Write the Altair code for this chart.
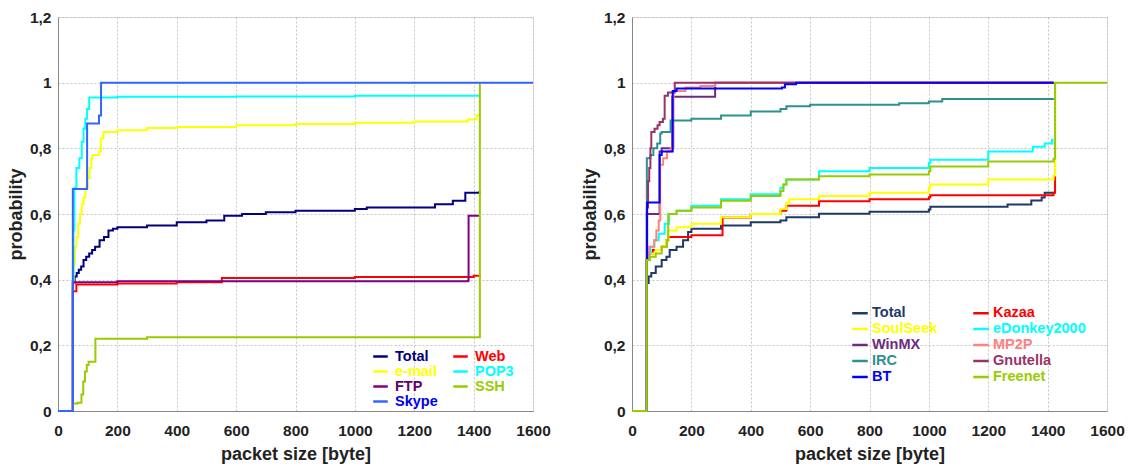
import altair as alt
import pandas as pd

# ---------------- Left panel: application protocols ----------------
L_NAMES = ["Total", "Web", "e-mail", "POP3", "FTP", "SSH", "Skype"]
L_COLORS = ["#000080", "#FF0000", "#FFFF00", "#00FFFF", "#800080", "#99CC00", "#3366FF"]
L_LABEL_COLORS = ["#000080", "#FF0000", "#FFFF00", "#00FFFF", "#660066", "#99CC00", "#0000EE"]

L_TOTAL_X = [0, 50, 56, 63, 70, 78, 86, 95, 105, 115, 125, 140, 155, 170, 185, 200, 300, 400, 500, 560, 620, 700, 800, 1000, 1040, 1270, 1330, 1372, 1420]
L_TOTAL_Y = [0, 0.39, 0.41, 0.42, 0.43, 0.44, 0.46, 0.47, 0.48, 0.49, 0.5, 0.52, 0.53, 0.55, 0.555, 0.56, 0.565, 0.575, 0.58, 0.595, 0.6, 0.605, 0.61, 0.615, 0.62, 0.63, 0.64, 0.665, 0.67]

L_WEB_X = [0, 50, 62, 200, 400, 552, 1000, 1400, 1420]
L_WEB_Y = [0, 0.365, 0.385, 0.388, 0.392, 0.405, 0.408, 0.412, 0.415]

L_EMAIL_X = [0, 50, 53, 57, 62, 68, 74, 80, 86, 92, 100, 106, 112, 116, 139, 144, 153, 200, 300, 400, 600, 800, 1000, 1200, 1380, 1410, 1420]
L_EMAIL_Y = [0, 0.39, 0.45, 0.5, 0.53, 0.57, 0.6, 0.63, 0.65, 0.68, 0.71, 0.74, 0.77, 0.78, 0.79, 0.83, 0.85, 0.855, 0.862, 0.865, 0.87, 0.874, 0.878, 0.882, 0.888, 0.9, 0.9]

L_POP3_X = [0, 50, 52, 55, 62, 72, 80, 86, 92, 98, 105, 200, 600, 1000, 1420]
L_POP3_Y = [0, 0.4, 0.55, 0.68, 0.74, 0.77, 0.82, 0.86, 0.89, 0.92, 0.955, 0.957, 0.958, 0.96, 0.96]

L_FTP_X = [0, 50, 200, 1380, 1383, 1420]
L_FTP_Y = [0, 0.392, 0.395, 0.397, 0.595, 0.595]

L_SSH_X = [0, 50, 66, 79, 85, 91, 97, 103, 126, 300, 1420, 1421]
L_SSH_Y = [0, 0.023, 0.025, 0.05, 0.09, 0.12, 0.14, 0.15, 0.22, 0.225, 0.225, 1.0]

L_SKYPE_X = [0, 50, 98, 138, 145, 1600]
L_SKYPE_Y = [0, 0.676, 0.876, 0.9, 1.0, 1.0]

# ---------------- Right panel: P2P and other applications ----------------
R_NAMES = ["Total", "Kazaa", "SoulSeek", "eDonkey2000", "WinMX", "MP2P", "IRC", "Gnutella", "BT", "Freenet"]
R_COLORS = ["#1F3A68", "#FF0000", "#FFFF00", "#00FFFF", "#6E2C80", "#FF8080", "#2E9090", "#993366", "#0000FF", "#99CC00"]
R_LABEL_COLORS = ["#1F3A68", "#FF0000", "#FFFF00", "#00FFFF", "#6E2C80", "#FF8080", "#2E9090", "#993366", "#0000FF", "#99CC00"]

R_TOTAL_X = [0, 50, 56, 65, 80, 100, 116, 127, 150, 172, 189, 200, 300, 400, 500, 520, 630, 800, 1000, 1005, 1265, 1345, 1380, 1390, 1420]
R_TOTAL_Y = [0, 0.39, 0.41, 0.42, 0.44, 0.46, 0.47, 0.49, 0.5, 0.52, 0.545, 0.555, 0.565, 0.575, 0.58, 0.59, 0.601, 0.607, 0.614, 0.622, 0.629, 0.641, 0.65, 0.665, 0.667]

R_KAZAA_X = [0, 50, 60, 70, 100, 115, 122, 200, 305, 400, 500, 520, 630, 800, 1000, 1005, 1420, 1425]
R_KAZAA_Y = [0, 0.46, 0.48, 0.49, 0.5, 0.52, 0.53, 0.535, 0.589, 0.6, 0.61, 0.625, 0.639, 0.645, 0.651, 0.657, 0.665, 1.0]

R_SOULSEEK_X = [0, 50, 60, 80, 100, 115, 123, 150, 200, 300, 400, 500, 520, 530, 630, 800, 1000, 1005, 1200, 1420, 1425]
R_SOULSEEK_Y = [0, 0.46, 0.48, 0.49, 0.5, 0.52, 0.55, 0.56, 0.57, 0.59, 0.6, 0.615, 0.635, 0.645, 0.655, 0.665, 0.68, 0.69, 0.705, 0.717, 1.0]

R_EDONKEY_X = [0, 50, 55, 62, 75, 90, 110, 125, 150, 200, 300, 400, 500, 510, 520, 630, 800, 1000, 1005, 1200, 1350, 1390, 1415, 1420]
R_EDONKEY_Y = [0, 0.46, 0.48, 0.5, 0.52, 0.54, 0.57, 0.6, 0.61, 0.625, 0.645, 0.66, 0.68, 0.69, 0.705, 0.73, 0.74, 0.755, 0.765, 0.79, 0.805, 0.815, 0.826, 0.826]

R_WINMX_X = [0, 50, 93, 100, 136, 280, 1420]
R_WINMX_Y = [0, 0.6, 0.79, 0.8, 0.957, 1.0, 1.0]

R_MP2P_X = [0, 50, 58, 75, 82, 90, 95, 105, 118, 130, 140, 180, 230, 280, 1420]
R_MP2P_Y = [0, 0.46, 0.5, 0.52, 0.55, 0.58, 0.75, 0.77, 0.79, 0.8, 0.975, 0.985, 0.99, 1.0, 1.0]

R_IRC_X = [0, 50, 62, 72, 85, 95, 100, 130, 200, 300, 400, 500, 520, 600, 900, 1000, 1045, 1420]
R_IRC_Y = [0, 0.77, 0.78, 0.8, 0.815, 0.845, 0.85, 0.885, 0.89, 0.9, 0.912, 0.92, 0.928, 0.933, 0.937, 0.943, 0.95, 0.952]

R_GNUTELLA_X = [0, 50, 54, 58, 62, 65, 76, 86, 93, 104, 110, 121, 144, 1420]
R_GNUTELLA_Y = [0, 0.62, 0.7, 0.74, 0.8, 0.85, 0.86, 0.87, 0.88, 0.89, 0.96, 0.97, 1.0, 1.0]

R_BT_X = [0, 50, 51, 93, 100, 137, 150, 505, 515, 553, 1420]
R_BT_Y = [0, 0.46, 0.635, 0.78, 0.79, 0.975, 0.982, 0.985, 0.995, 1.0, 1.0]

R_FREENET_X = [0, 50, 60, 80, 100, 118, 122, 150, 200, 300, 400, 500, 510, 520, 630, 800, 1000, 1005, 1200, 1420, 1425, 1600]
R_FREENET_Y = [0, 0.46, 0.47, 0.48, 0.5, 0.52, 0.6, 0.61, 0.62, 0.64, 0.655, 0.67, 0.69, 0.705, 0.715, 0.72, 0.73, 0.745, 0.76, 0.768, 1.0, 1.0]

X_TICKS = [0, 200, 400, 600, 800, 1000, 1200, 1400, 1600]
Y_TICKS = [0, 0.2, 0.4, 0.6, 0.8, 1.0, 1.2]

L_SERIES = [
    ("Total", L_TOTAL_X, L_TOTAL_Y),
    ("Web", L_WEB_X, L_WEB_Y),
    ("e-mail", L_EMAIL_X, L_EMAIL_Y),
    ("POP3", L_POP3_X, L_POP3_Y),
    ("FTP", L_FTP_X, L_FTP_Y),
    ("SSH", L_SSH_X, L_SSH_Y),
    ("Skype", L_SKYPE_X, L_SKYPE_Y),
]
R_SERIES = [
    ("Total", R_TOTAL_X, R_TOTAL_Y),
    ("Kazaa", R_KAZAA_X, R_KAZAA_Y),
    ("SoulSeek", R_SOULSEEK_X, R_SOULSEEK_Y),
    ("eDonkey2000", R_EDONKEY_X, R_EDONKEY_Y),
    ("WinMX", R_WINMX_X, R_WINMX_Y),
    ("MP2P", R_MP2P_X, R_MP2P_Y),
    ("IRC", R_IRC_X, R_IRC_Y),
    ("Gnutella", R_GNUTELLA_X, R_GNUTELLA_Y),
    ("BT", R_BT_X, R_BT_Y),
    ("Freenet", R_FREENET_X, R_FREENET_Y),
]

AXIS_STYLE = dict(
    labelFont="Liberation Sans", labelFontWeight="bold", labelFontSize=15.5,
    labelColor="#222222", titleFont="Liberation Sans", titleFontWeight="bold",
    titleFontSize=18, titleColor="#222222", gridColor="#c4c4c4", gridDash=[2, 2],
    domainColor="#888888", ticks=False,
)


def frame(series):
    rows = []
    for name, xs, ys in series:
        for i, (x, y) in enumerate(zip(xs, ys)):
            rows.append({"series": name, "x": x, "y": y, "i": i})
    return pd.DataFrame(rows)


def panel(series, names, colors, label_colors, lx, ly, fsize, ssize, loff, cpad):
    expr = ("[" + ",".join("'%s'" % c for c in label_colors) + "][indexof(["
            + ",".join("'%s'" % n for n in names) + "], datum.value)]")
    return alt.Chart(frame(series)).mark_line(
        interpolate="step-after", strokeWidth=2
    ).encode(
        x=alt.X("x:Q", scale=alt.Scale(domain=[0, 1600], nice=False),
                axis=alt.Axis(values=X_TICKS, title="packet size [byte]", format="d",
                              labelFlush=False, labelPadding=12, titlePadding=7,
                              **AXIS_STYLE)),
        y=alt.Y("y:Q", scale=alt.Scale(domain=[0, 1.2], nice=False),
                axis=alt.Axis(values=Y_TICKS, title="probability",
                              labelPadding=7, titlePadding=4,
                              labelExpr="replace(format(datum.value, '~g'), '.', ',')",
                              **AXIS_STYLE)),
        color=alt.Color("series:N", sort=names,
                        scale=alt.Scale(domain=names, range=colors),
                        legend=alt.Legend(
                            title=None, orient="none", legendX=lx, legendY=ly,
                            columns=2, direction="horizontal",
                            symbolType="stroke", symbolStrokeWidth=2.5,
                            symbolSize=ssize, labelFontSize=fsize, labelFontWeight="bold",
                            labelFont="Liberation Sans", rowPadding=0,
                            columnPadding=cpad, labelOffset=loff, padding=0,
                            labelColor=alt.ExprRef(expr),
                        )),
        order="i:Q",
        detail="series:N",
    ).properties(width=475, height=394)


left = panel(L_SERIES, L_NAMES, L_COLORS, L_LABEL_COLORS, 314, 331, 14.5, 210, 6, 10)
right = panel(R_SERIES, R_NAMES, R_COLORS, R_LABEL_COLORS, 219, 287, 14.5, 240, 3, 30)

chart = alt.hconcat(left, right, spacing=29).resolve_scale(
    color="independent"
).resolve_legend(color="independent").properties(
    padding={"left": 6, "top": 9, "right": 0, "bottom": 0}
).configure_view(stroke="#999999", strokeWidth=1).configure(background="white")

chart.save("out.html", embed_options={"renderer": "svg", "actions": False})
